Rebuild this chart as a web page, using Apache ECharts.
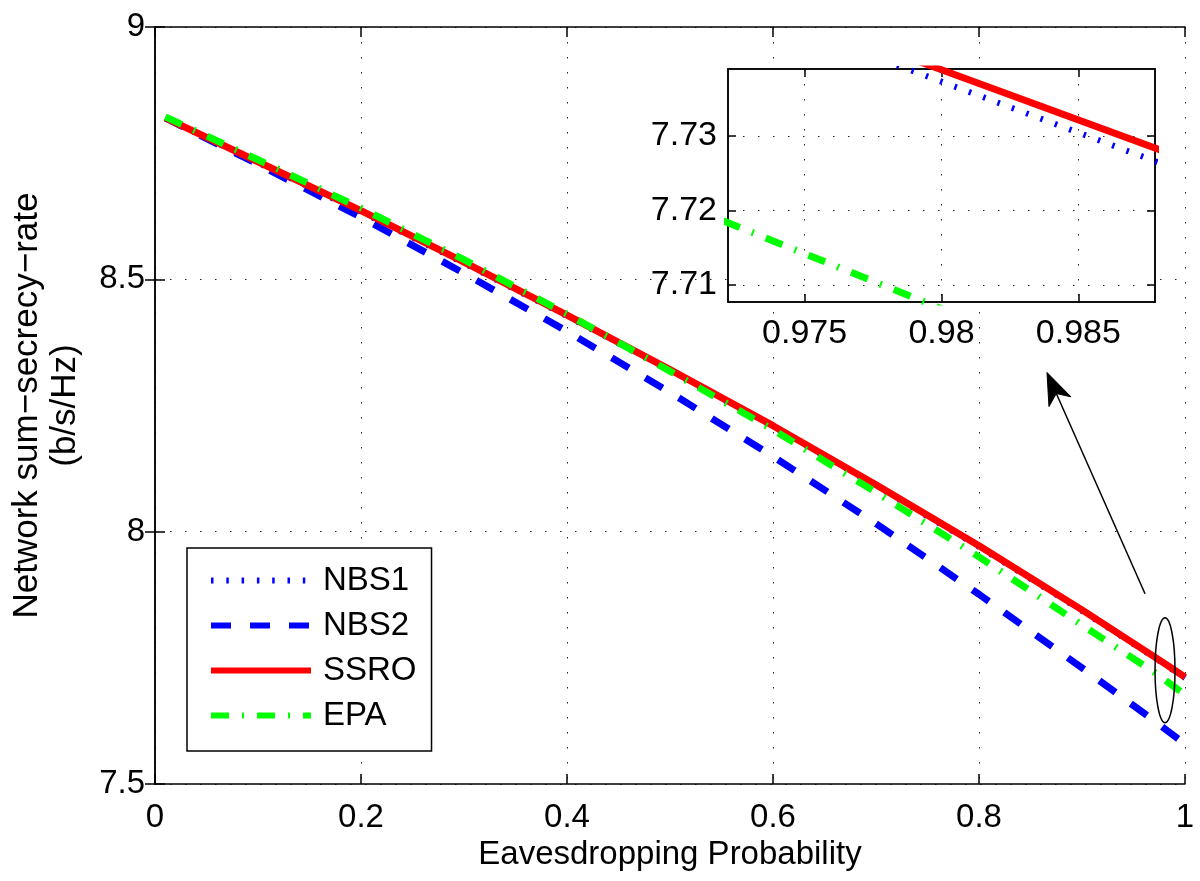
<!DOCTYPE html>
<html><head><meta charset="utf-8">
<script src="https://cdn.jsdelivr.net/npm/echarts@6/dist/echarts.min.js"></script>
<style>html,body{margin:0;padding:0;background:#fff}#c{width:1200px;height:881px}</style>
</head><body><div id="c"></div>
<script>
// ---- data ----
const probability = [0.01, 0.1, 0.2, 0.3, 0.4, 0.5, 0.6, 0.7, 0.8, 0.9, 0.97, 0.98, 0.99, 1.0];
const nbs1 = [8.819, 8.731, 8.634, 8.532, 8.427, 8.319, 8.208, 8.091, 7.970, 7.843, 7.7510, 7.7373, 7.7236, 7.7099];
const nbs2 = [8.820, 8.728, 8.623, 8.512, 8.397, 8.276, 8.149, 8.016, 7.876, 7.730, 7.6255, 7.6100, 7.5945, 7.5790];
const ssro = [8.820, 8.733, 8.636, 8.534, 8.429, 8.321, 8.210, 8.093, 7.972, 7.845, 7.7524, 7.7389, 7.7254, 7.7119];
const epa  = [8.822, 8.737, 8.641, 8.539, 8.431, 8.318, 8.202, 8.078, 7.950, 7.815, 7.7216, 7.7068, 7.6920, 7.6770];
const seriesNames = ['NBS1', 'NBS2', 'SSRO', 'EPA'];
const insetXTicks = [0.975, 0.98, 0.985];
const insetYTicks = [7.71, 7.72, 7.73];
const insetXRange = [0.9722, 0.9878];
const insetYRange = [7.7077, 7.7390];
// annotation anchors (data units)
const ellipseCenter = [0.9806, 7.7252];
const ellipseRadius = [0.0097, 0.104];
const arrowFrom = [0.9612, 7.877];
const arrowTo = [0.866, 8.3155];

const FONT = '"Liberation Sans", Arial, Helvetica, sans-serif';
const zip = (ys) => probability.map((x, i) => [x, ys[i]]);
const styles = {
  NBS1: { color: '#0000ff', width: 6, type: [2.5, 12.8] },
  NBS2: { color: '#0000ff', width: 7, type: [20, 19] },
  SSRO: { color: '#ff0000', width: 7, type: 'solid' },
  EPA:  { color: '#00ff00', width: 7, type: [18, 13, 2, 13] }
};
const values = { NBS1: nbs1, NBS2: nbs2, SSRO: ssro, EPA: epa };

const dotted = { color: '#222', width: 1, type: [1.5, 13.5] };
const axisLineStyle = { lineStyle: { color: '#000', width: 1.5 } };

function makeSeries(name, inset) {
  const st = styles[name];
  return {
    name: inset ? name + ' (zoom)' : name,
    type: 'line',
    xAxisIndex: inset ? 2 : 0,
    yAxisIndex: inset ? 2 : 0,
    data: zip(values[name]),
    symbol: 'none',
    showSymbol: false,
    clip: true,
    z: inset ? 6 : 2,
    lineStyle: { color: st.color, width: st.width, type: st.type, cap: 'butt' },
    itemStyle: { color: st.color }
  };
}

const chart = echarts.init(document.getElementById('c'), null, { renderer: 'canvas' });
const tickStyle = (len) => ({ inside: true, length: len, lineStyle: { color: '#000', width: 1.5 } });
const option = {
  animation: false,
  backgroundColor: '#fff',
  textStyle: { fontFamily: FONT },
  grid: [
    { left: 155, top: 27, width: 1030, height: 757, show: false },
    { left: 728, top: 69, width: 427, height: 233, show: true, backgroundColor: '#fff', borderColor: '#000', borderWidth: 1.5, z: 3 }
  ],
  xAxis: [
    { gridIndex: 0, type: 'value', min: 0, max: 1, interval: 0.2, position: 'bottom',
      axisLine: axisLineStyle, axisTick: tickStyle(10),
      axisLabel: { color: '#000', fontSize: 33, margin: 17, fontFamily: FONT },
      splitLine: { show: true, lineStyle: dotted },
      name: 'Eavesdropping Probability', nameLocation: 'middle', nameGap: 52,
      nameTextStyle: { color: '#000', fontSize: 33, fontFamily: FONT } },
    { gridIndex: 0, type: 'value', min: 0, max: 1, interval: 0.2, position: 'top',
      axisLine: axisLineStyle, axisTick: tickStyle(10),
      axisLabel: { show: false }, splitLine: { show: false } },
    { gridIndex: 1, type: 'value', min: insetXRange[0], max: insetXRange[1], position: 'bottom', z: 4,
      axisLine: axisLineStyle,
      axisTick: Object.assign(tickStyle(8), { customValues: insetXTicks }),
      axisLabel: { color: '#000', fontSize: 34, margin: 15, fontFamily: FONT, customValues: insetXTicks },
      splitLine: { show: true, lineStyle: dotted } },
    { gridIndex: 1, type: 'value', min: insetXRange[0], max: insetXRange[1], position: 'top', z: 4,
      axisLine: axisLineStyle,
      axisTick: Object.assign(tickStyle(8), { customValues: insetXTicks }),
      axisLabel: { show: false }, splitLine: { show: false } }
  ],
  yAxis: [
    { gridIndex: 0, type: 'value', min: 7.5, max: 9, interval: 0.5, position: 'left',
      axisLine: axisLineStyle, axisTick: tickStyle(10),
      axisLabel: { color: '#000', fontSize: 33, margin: 10, fontFamily: FONT },
      splitLine: { show: true, lineStyle: dotted },
      name: 'Network sum\u2212secrecy\u2212rate\n(b/s/Hz)', nameLocation: 'middle', nameGap: 71,
      nameTextStyle: { color: '#000', fontSize: 35, lineHeight: 38, align: 'center', fontFamily: FONT } },
    { gridIndex: 0, type: 'value', min: 7.5, max: 9, interval: 0.5, position: 'right',
      axisLine: axisLineStyle, axisTick: tickStyle(10),
      axisLabel: { show: false }, splitLine: { show: false } },
    { gridIndex: 1, type: 'value', min: insetYRange[0], max: insetYRange[1], position: 'left', z: 4,
      axisLine: axisLineStyle,
      axisTick: Object.assign(tickStyle(8), { customValues: insetYTicks }),
      axisLabel: { color: '#000', fontSize: 34, margin: 11, fontFamily: FONT, customValues: insetYTicks },
      splitLine: { show: true, lineStyle: dotted } },
    { gridIndex: 1, type: 'value', min: insetYRange[0], max: insetYRange[1], position: 'right', z: 4,
      axisLine: axisLineStyle,
      axisTick: Object.assign(tickStyle(8), { customValues: insetYTicks }),
      axisLabel: { show: false }, splitLine: { show: false } }
  ],
  legend: {
    data: seriesNames,
    orient: 'vertical', left: 187, top: 548,
    padding: [16, 15, 19, 21],
    itemWidth: 100, itemHeight: 33, itemGap: 12,
    backgroundColor: '#fff', borderColor: '#000', borderWidth: 1.5, borderRadius: 0,
    itemStyle: { opacity: 0 },
    lineStyle: { width: 6 },
    textStyle: { color: '#000', fontSize: 33, lineHeight: 33, fontFamily: FONT, padding: [0, 0, 0, 7] },
    selectedMode: false, z: 8
  },
  series: seriesNames.map(n => makeSeries(n, false)).concat(seriesNames.map(n => makeSeries(n, true)))
};
chart.setOption(option);

function toPx(p) { return chart.convertToPixel({ xAxisIndex: 0, yAxisIndex: 0 }, p); }
const c = toPx(ellipseCenter);
const e2 = toPx([ellipseCenter[0] + ellipseRadius[0], ellipseCenter[1] + ellipseRadius[1]]);
const rx = Math.abs(e2[0] - c[0]), ry = Math.abs(e2[1] - c[1]);
const a0 = toPx(arrowFrom), a1 = toPx(arrowTo);
const dx = a1[0] - a0[0], dy = a1[1] - a0[1], len = Math.hypot(dx, dy);
const ux = dx / len, uy = dy / len, pxv = -uy, pyv = ux;
const headL = 32, headW = 12;
const bx = a1[0] - ux * headL, by = a1[1] - uy * headL;
const nx = a1[0] - ux * headL * 0.72, ny = a1[1] - uy * headL * 0.72;
chart.setOption({
  graphic: [
    { type: 'ellipse', shape: { cx: c[0], cy: c[1], rx: rx, ry: ry }, style: { fill: 'none', stroke: '#000', lineWidth: 1.5 }, z: 10 },
    { type: 'line', shape: { x1: a0[0], y1: a0[1], x2: nx, y2: ny }, style: { stroke: '#000', lineWidth: 1.5 }, z: 10 },
    { type: 'polygon', shape: { points: [[a1[0], a1[1]], [bx + pxv * headW, by + pyv * headW], [nx, ny], [bx - pxv * headW, by - pyv * headW]] }, style: { fill: '#000', stroke: '#000', lineWidth: 1 }, z: 10 }
  ]
});
</script></body></html>
